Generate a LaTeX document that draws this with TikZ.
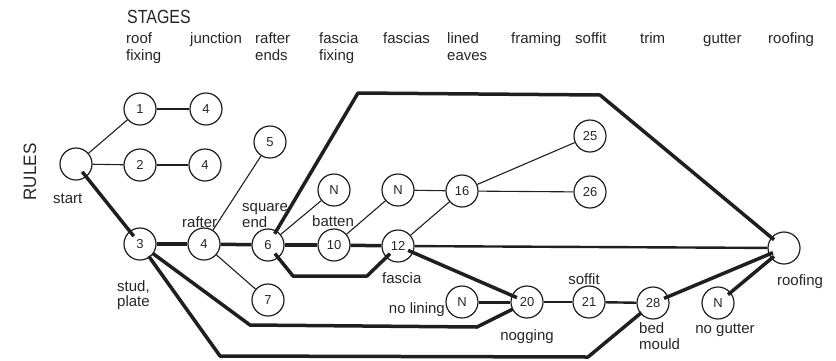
\documentclass[tikz,border=0pt]{standalone}
\usepackage{fontspec}
\setmainfont{Liberation Sans}
\begin{document}
\begin{tikzpicture}[x=1pt,y=-1pt,
  state/.style={circle, draw=black!88, line width=1.2pt, minimum size=32pt, inner sep=0pt,
                text=black!85, font=\fontsize{13}{13}\selectfont},
  thinlink/.style={draw=black!88, line width=1.1pt},
  midlink/.style={draw=black!88, line width=2.4pt},
  heavy/.style={draw=black!88, line width=3.5pt, line join=round},
  sh/.style={shorten <=#1, shorten >=#1},
  lbl/.style={inner sep=0pt, text=black!85, font=\fontsize{15}{15}\selectfont},
  head/.style={lbl, anchor=base west}]
\useasboundingbox (0,0) rectangle (836,360);

% headings
\node[head, font=\fontsize{19}{19}\selectfont, xscale=0.84] (stages) at (127,23) {STAGES};
\node[lbl, font=\fontsize{18}{18}\selectfont, rotate=90, xscale=0.95] (rules) at (30,172) {RULES};
\node[head] (h1a) at (126,43) {roof};   \node[head] (h1b) at (126,60) {fixing};
\node[head] (h2)  at (190,43) {junction};
\node[head] (h3a) at (255,43) {rafter}; \node[head] (h3b) at (255,60) {ends};
\node[head] (h4a) at (319,43) {fascia}; \node[head] (h4b) at (319,60) {fixing};
\node[head] (h5)  at (383,43) {fascias};
\node[head] (h6a) at (447,43) {lined};  \node[head] (h6b) at (447,60) {eaves};
\node[head] (h7)  at (511,43) {framing};
\node[head] (h8)  at (575,43) {soffit};
\node[head] (h9)  at (640,43) {trim};
\node[head] (h10) at (703,43) {gutter};
\node[head] (h11) at (768,43) {roofing};

% rule nodes
\node[state] (start) at (76,164) {};
\node[state] (n1)  at (140,109) {1};
\node[state] (n1b) at (206,109) {4};
\node[state] (n2)  at (140,165) {2};
\node[state] (n2b) at (205,165) {4};
\node[state] (n3)  at (140,244) {3};
\node[state] (n4)  at (204,244) {4};
\node[state] (n5)  at (270,142) {5};
\node[state] (n6)  at (268,245) {6};
\node[state] (n7)  at (268,300) {7};
\node[state] (na)  at (334,190) {N};
\node[state] (n10) at (334,245) {10};
\node[state] (nb)  at (398,190) {N};
\node[state] (n12) at (398,246) {12};
\node[state] (n16) at (462,191) {16};
\node[state] (n25) at (590,136) {25};
\node[state] (n26) at (590,192) {26};
\node[state] (nc)  at (462,302) {N};
\node[state] (n20) at (527,302) {20};
\node[state] (n21) at (589,302) {21};
\node[state] (n28) at (653,303) {28};
\node[state] (nd)  at (718,303) {N};
\node[state] (roof) at (784,248) {};

% corners of the routed paths
\coordinate (t1) at (358,93);
\coordinate (t2) at (600,95);
\coordinate (f1) at (293,276);
\coordinate (f2) at (367,276);
\coordinate (m1) at (250,325);
\coordinate (m2) at (477,327);
\coordinate (l1) at (220,356);
\coordinate (l2) at (588,357);

% node labels
\node[lbl, anchor=base west] (lstart) at (53,203) {start};
\node[lbl, anchor=base west] (lraft) at (182,227) {rafter};
\node[lbl, anchor=base west] (lsq) at (242,211) {square};
\node[lbl, anchor=base west] (lend) at (242,227) {end};
\node[lbl, anchor=base west] (lbat) at (312,226) {batten};
\node[lbl, anchor=base west] (lstud) at (117,291) {stud,};
\node[lbl, anchor=base west] (lplate) at (117,306) {plate};
\node[lbl, anchor=base west] (lfas) at (382,283) {fascia};
\node[lbl, anchor=base east] (lnol) at (445,313) {no lining};
\node[lbl, anchor=base] (lsof) at (584,284) {soffit};
\node[lbl, anchor=base] (lnog) at (527,340) {nogging};
\node[lbl, anchor=base west] (lbed) at (639,333) {bed};
\node[lbl, anchor=base west] (lmould) at (639,349) {mould};
\node[lbl, anchor=base] (lnog2) at (725,333) {no gutter};
\node[lbl, anchor=base] (lroof) at (800,285) {roofing};

% thin connectors
\draw[thinlink] (start) -- (n1);
\draw[thinlink] (start) -- (n2);
\draw[thinlink] (n1) -- (n1b);
\draw[thinlink] (n2) -- (n2b);
\draw[thinlink] (n4) -- (n5);
\draw[thinlink] (n4) -- (n7);
\draw[thinlink] (n6) -- (na);
\draw[thinlink] (n10) -- (nb);
\draw[thinlink] (nb) -- (n16);
\draw[thinlink] (n12) -- (n16);
\draw[thinlink] (n16) -- (n25);
\draw[thinlink] (n16) -- (n26);

% medium connectors
\draw[midlink] (n12) -- (roof);
\draw[midlink] (n20) -- (n21);
\draw[midlink] (n21) -- (n28);

% heavy connectors
\draw[heavy] (n3) -- (n4);
\draw[heavy] (n4) -- (n6);
\draw[heavy] (n6) -- (n10);
\draw[heavy] (n10) -- (n12);
\draw[heavy, line width=3pt] (nc) -- (n20);
\draw[heavy, sh=10pt] (start.center) -- (n3.center);
\draw[heavy, sh=13pt] (n6.center) -- (t1) -- (t2) -- (roof.center);
\draw[heavy, sh=11pt] (n6.center) -- (f1) -- (f2) -- (n12.center);
\draw[heavy, sh=11pt] (n12.center) -- (n20.center);
\draw[heavy, sh=16pt] (n3.center) -- (m1) -- (m2) -- (n20.center);
\draw[heavy, sh=15pt] (n3.center) -- (l1) -- (l2) -- (n28.center);
\draw[heavy, sh=12pt] (n28.center) -- (roof.center);
\draw[heavy, sh=13pt] (nd.center) -- (roof.center);
\end{tikzpicture}
\end{document}
